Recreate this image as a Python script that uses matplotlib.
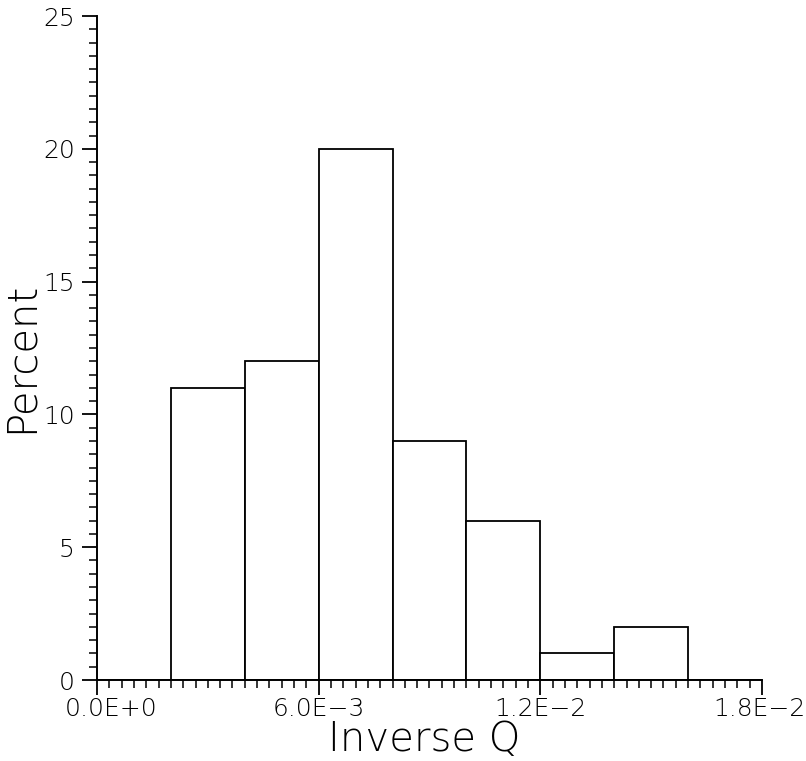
import matplotlib
matplotlib.use("Agg")
import matplotlib.pyplot as plt
import matplotlib.transforms as mtransforms
from matplotlib.ticker import MultipleLocator, FixedLocator

# Data
bin_left = [0.000, 0.002, 0.004, 0.006, 0.008, 0.010, 0.012, 0.014, 0.016]
percent = [0, 11, 12, 20, 9, 6, 1, 2, 0]
bin_width = 0.002
xticks = [0.0, 0.006, 0.012, 0.018]
xticklabels = ["0.0E+0", "6.0E\u22123", "1.2E\u22122", "1.8E\u22122"]
yticks = [0, 5, 10, 15, 20, 25]

plt.rcParams['font.family'] = ['DejaVu Sans']
plt.rcParams['font.weight'] = 'light'
plt.rcParams['axes.labelweight'] = 'light'

fig = plt.figure(figsize=(8.06, 7.61), dpi=100)
ax = fig.add_axes([97/806, 1 - 680/761, (762 - 97)/806, (680 - 16)/761])

ax.bar(bin_left, percent, width=bin_width, align='edge',
       facecolor='white', edgecolor='black', linewidth=1.3)

ax.set_xlim(0, 0.018)
ax.set_ylim(0, 25)

for s in ['top', 'right']:
    ax.spines[s].set_visible(False)
for s in ['left', 'bottom']:
    ax.spines[s].set_linewidth(1.4)

ax.xaxis.set_major_locator(FixedLocator(xticks))
ax.set_xticklabels(xticklabels)
ax.xaxis.set_minor_locator(MultipleLocator(0.006 / 18))
ax.yaxis.set_major_locator(FixedLocator(yticks))
ax.yaxis.set_minor_locator(MultipleLocator(0.5))

ax.tick_params(axis='both', which='major', direction='out', length=11,
               width=1.3, labelsize=18)
ax.tick_params(axis='x', which='major', pad=1)
ax.tick_params(axis='y', which='major', pad=5)
ax.tick_params(axis='both', which='minor', direction='out', length=6,
               width=1.1)

# nudge the first and last x tick labels as in the reference
labels = ax.get_xticklabels()
labels[0].set_transform(labels[0].get_transform() +
                        mtransforms.ScaledTranslation(14/100, 0, fig.dpi_scale_trans))
labels[-1].set_transform(labels[-1].get_transform() +
                         mtransforms.ScaledTranslation(-3/100, 0, fig.dpi_scale_trans))

ax.set_xlabel("Inverse Q", fontsize=29, fontweight='light')
ax.set_ylabel("Percent", fontsize=29, fontweight='light')
ax.xaxis.label.set_va('top')
ax.xaxis.set_label_coords((424 - 97) / 665, (680 - 720) / 664)
ax.yaxis.label.set_va('center')
ax.yaxis.set_label_coords((21 - 97) / 665, (680 - 357) / 664)

fig.savefig("out.png", dpi=100)
